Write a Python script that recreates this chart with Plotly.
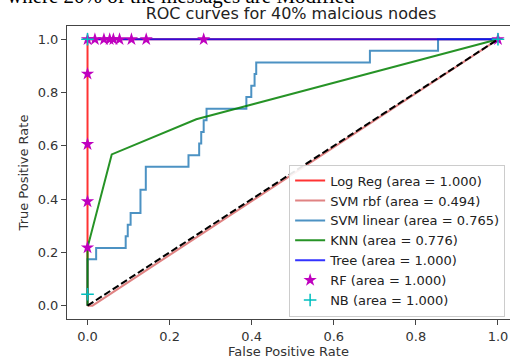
import plotly.graph_objects as go

# ---------------- data ----------------
tick_vals = [0.0, 0.2, 0.4, 0.6, 0.8, 1.0]
tick_text = ["0.0", "0.2", "0.4", "0.6", "0.8", "1.0"]

logreg_fpr = [0.0, 0.0, 0.0, 1.0]
logreg_tpr = [0.0, 0.174, 1.0, 1.0]

svm_rbf_fpr = [0.0, 0.012, 1.0]
svm_rbf_tpr = [0.0, 0.0, 1.0]

svm_lin_fpr = [0.0, 0.0, 0.021, 0.021, 0.093, 0.093, 0.098, 0.098, 0.105, 0.105,
               0.129, 0.129, 0.142, 0.142, 0.246, 0.246, 0.272, 0.272, 0.277, 0.277,
               0.283, 0.283, 0.290, 0.290, 0.387, 0.387, 0.399, 0.399, 0.407, 0.407,
               0.411, 0.411, 0.688, 0.688, 0.854, 0.854, 1.0]
svm_lin_tpr = [0.0, 0.174, 0.174, 0.217, 0.217, 0.261, 0.261, 0.304, 0.304, 0.348,
               0.348, 0.435, 0.435, 0.522, 0.522, 0.565, 0.565, 0.609, 0.609, 0.652,
               0.652, 0.696, 0.696, 0.739, 0.739, 0.783, 0.783, 0.826, 0.826, 0.870,
               0.870, 0.913, 0.913, 0.957, 0.957, 1.0, 1.0]

knn_fpr = [0.0, 0.0, 0.059, 0.265, 1.0]
knn_tpr = [0.0, 0.218, 0.568, 0.700, 1.0]

tree_fpr = [0.0, 1.0]
tree_tpr = [1.0, 1.0]

rf_fpr = [0.0, 0.0, 0.0, 0.0, 0.0, 0.018, 0.040, 0.054, 0.063, 0.078, 0.107, 0.143, 0.283, 1.0]
rf_tpr = [0.218, 0.391, 0.606, 0.870, 1.0, 1.0, 1.0, 1.0, 1.0, 1.0, 1.0, 1.0, 1.0, 1.0]

nb_fpr = [0.0, 0.0, 1.0]
nb_tpr = [0.043, 1.0, 1.0]

chance_x = [0.0, 1.0]
chance_y = [0.0, 1.0]

labels = ["Log Reg (area = 1.000)", "SVM rbf (area = 0.494)", "SVM linear (area = 0.765)",
          "KNN (area = 0.776)", "Tree (area = 1.000)", "RF (area = 1.000)", "NB (area = 1.000)"]

FONT = "DejaVu Sans"

fig = go.Figure()
fig.add_trace(go.Scatter(x=logreg_fpr, y=logreg_tpr, mode="lines", name=labels[0],
                         line=dict(color="rgba(255,0,0,0.8)", width=2)))
fig.add_trace(go.Scatter(x=svm_rbf_fpr, y=svm_rbf_tpr, mode="lines", name=labels[1],
                         line=dict(color="rgba(214,90,90,0.75)", width=2)))
fig.add_trace(go.Scatter(x=svm_lin_fpr, y=svm_lin_tpr, mode="lines", name=labels[2],
                         line=dict(color="rgba(31,119,180,0.8)", width=2)))
fig.add_trace(go.Scatter(x=knn_fpr, y=knn_tpr, mode="lines", name=labels[3],
                         line=dict(color="rgba(0,128,0,0.85)", width=2)))
fig.add_trace(go.Scatter(x=tree_fpr, y=tree_tpr, mode="lines", name=labels[4],
                         line=dict(color="rgba(0,0,255,0.8)", width=2)))
fig.add_trace(go.Scatter(x=rf_fpr, y=rf_tpr, mode="markers", name=labels[5],
                         marker=dict(symbol="star", color="#bf00bf", size=10,
                                     line=dict(width=0))))
fig.add_trace(go.Scatter(x=nb_fpr, y=nb_tpr, mode="markers", name=labels[6],
                         marker=dict(symbol="cross-thin", size=9,
                                     line=dict(color="#00bfbf", width=1.5))))
fig.add_trace(go.Scatter(x=chance_x, y=chance_y, mode="lines", showlegend=False,
                         line=dict(color="black", width=2, dash="7px,3px")))

axis_common = dict(showgrid=False, zeroline=False, showline=True, linecolor="#444",
                   linewidth=1, ticks="outside", ticklen=5, tickcolor="#444",
                   automargin=False,
                   tickfont=dict(family=FONT, size=13, color="#333"))

fig.update_layout(
    width=510, height=362,
    margin=dict(l=67, r=0, t=26, b=43),
    paper_bgcolor="white", plot_bgcolor="white",
    font=dict(family=FONT, color="#333"),
    title=dict(text="ROC curves for 40% malcious nodes", x=0.5056, xref="paper",
               y=1 - 13 / 362, yref="container", xanchor="center", yanchor="middle",
               font=dict(family=FONT, size=16, color="#222")),
    xaxis=dict(range=[-0.05, 1.0293], tickvals=tick_vals, ticktext=tick_text,
               mirror=True,
               title=dict(text="False Positive Rate", standoff=0,
                          font=dict(family=FONT, size=13, color="#333")),
               **axis_common),
    yaxis=dict(range=[-0.05, 1.05], tickvals=tick_vals, ticktext=tick_text,
               title=dict(text="True Positive Rate", standoff=6,
                          font=dict(family=FONT, size=13, color="#333")),
               **axis_common),
    legend=dict(x=0.989, y=0.008, xanchor="right", yanchor="bottom",
                bgcolor="rgba(255,255,255,0.9)", bordercolor="#cccccc", borderwidth=1,
                font=dict(family=FONT, size=13, color="#222"), itemwidth=30,
                tracegroupgap=0),
    showlegend=True,
)

fig.add_annotation(text="where 20% of the messages are Modified", xref="paper", yref="paper",
                   x=-0.14, y=1.104, xanchor="left", yanchor="middle", showarrow=False,
                   font=dict(family="Liberation Serif", size=21, color="black"))

fig.write_html("out.html", config={"displayModeBar": False},
               post_script="document.body.style.margin='0';document.body.style.overflow='hidden';")
